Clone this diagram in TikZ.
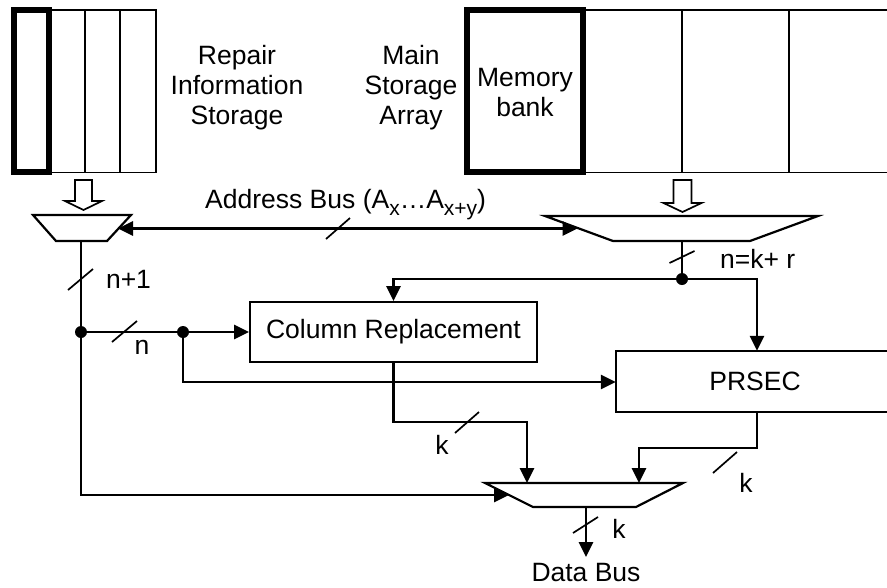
\documentclass[tikz,border=0pt]{standalone}
\usepackage{fontspec}
\setmainfont{Liberation Sans}
\usetikzlibrary{arrows.meta}

\newcommand{\lowsub}[1]{\raisebox{-7pt}{\fontsize{21}{21}\selectfont #1}}

\begin{document}
\begin{tikzpicture}[x=1pt,y=-1pt,
  thinline/.style={line width=1.7pt},
  wire/.style={line width=2.8pt},
  frame/.style={line width=5.5pt},
  tip/.style={-{Triangle[length=15pt,width=14pt]}},
  bothtips/.style={{Triangle[length=15pt,width=14pt]}-{Triangle[length=15pt,width=14pt]}},
  lbl/.style={font=\fontsize{26.5}{30}\selectfont, inner sep=0pt, align=center},
  blk/.style={draw, line width=1.7pt, inner sep=0pt, font=\fontsize{26.5}{30}\selectfont},
  dot/.style={circle, fill, inner sep=0pt, minimum size=12pt},
  slash/.style={line width=1.7pt},
  hollow/.style={draw, line width=1.7pt, fill=white, line join=miter},
  muxshape/.style={draw, line width=2.2pt, fill=white, line join=miter}
]
\useasboundingbox (0,0) rectangle (887,587);

% ---------- repair information storage ----------
\draw[thinline] (49,10) rectangle (156,172.5);
\draw[thinline] (85,10) -- (85,172.5) (120,10) -- (120,172.5);
\node[draw, frame, minimum width=35pt, minimum height=162pt, inner sep=0pt] (ris) at (31.5,91) {};

\node[lbl] (ristext) at (237,88) {Repair\\Information\\Storage};
\node[lbl] (mstext) at (411,88) {Main\\Storage\\Array};

% ---------- main storage array ----------
\draw[thinline] (887,10) -- (583,10) (583,172.5) -- (887,172.5);
\draw[thinline] (682,10) -- (682,172.5) (789,10) -- (789,172.5);
\node[draw, frame, minimum width=116pt, minimum height=162pt, inner sep=0pt] (bank) at (525,91) {};
\node[lbl] (banktext) at (525,93) {Memory\\bank};

% ---------- hollow arrows into the multiplexers ----------
\draw[hollow] (75,180) -- (92,180) -- (92,201) -- (102,201) -- (83.5,210) -- (65,201) -- (75,201) -- cycle;
\draw[hollow] (673.5,180) -- (691.5,180) -- (691.5,203) -- (701.5,203) -- (682.5,212) -- (663.5,203) -- (673.5,203) -- cycle;

% ---------- multiplexers ----------
\draw[muxshape] (33,215) -- (131,215) -- (107,241) -- (56,241) -- cycle;
\coordinate (lmuxout) at (81,241);
\coordinate (lmuxin) at (118,228.5);

\draw[muxshape] (545,216) -- (818,216) -- (750,241) -- (613,241) -- cycle;
\coordinate (rmuxout) at (682,241);
\coordinate (rmuxin) at (577.5,228.5);

\draw[muxshape] (485,483) -- (683,483) -- (636,507) -- (533,507) -- cycle;
\coordinate (dmuxin) at (509,495);
\coordinate (dmuxa) at (527,483);
\coordinate (dmuxb) at (639,483);
\coordinate (dmuxout) at (586,507);

% ---------- processing blocks ----------
\node[blk, minimum width=287pt, minimum height=60pt] (colrep) at (393.5,332) {Column Replacement};
\node[inner sep=0pt, minimum width=271pt, minimum height=61pt] (prsec) at (751.5,381.5) {};
\draw[line width=1.7pt] (prsec.north east) -- (prsec.north west) -- (prsec.south west) -- (prsec.south east);
\node[lbl] (prsectext) at (755,381.5) {PRSEC};

% ---------- address bus ----------
\draw[wire, bothtips] (lmuxin) -- (rmuxin);
\draw[slash] (326,239) -- (350,218);
\node[lbl, anchor=base west] (abus) at (205,208) {Address Bus (A\lowsub{x}\dots A\lowsub{x+y})};

% ---------- right multiplexer output ----------
\coordinate (rj) at (682,279);
\draw[thinline] (rmuxout) -- (rj);
\node[dot] (rjdot) at (rj) {};
\draw[slash] (669.5,263) -- (694.5,251);
\node[lbl, anchor=west] (nkr) at (720,259) {n=k+ r};
\draw[wire, tip] (rj) -| (colrep.north);
\draw[wire, tip] (rj) -| (prsec.north -| 757,0);

% ---------- left multiplexer output ----------
\coordinate (lj) at (81,332);
\coordinate (nj) at (183,332);
\draw[thinline] (lmuxout) -- (lj);
\draw[wire, tip] (lj) -- (81,495) -- (dmuxin);
\node[dot] (ljdot) at (lj) {};
\draw[slash] (68,290) -- (93,269);
\node[lbl] (np1) at (128.5,279) {n+1};

\draw[thinline] (lj) -- (nj);
\node[dot] (njdot) at (nj) {};
\draw[slash] (112,342) -- (137,321);
\node[lbl] (nlbl) at (142,347) {n};
\draw[wire, tip] (nj) -- (colrep.west);
\draw[wire, tip] (nj) |- (prsec.west |- 0,382);

% ---------- block outputs into the data multiplexer ----------
\draw[wire, tip] (colrep.south) |- (527,422) -- (dmuxa);
\draw[slash] (455,433) -- (479,412);
\node[lbl] (k1) at (442,445) {k};

\draw[wire, tip] (757,412) |- (639,448) -- (dmuxb);
\draw[slash] (713,473) -- (737,452);
\node[lbl] (k2) at (746,483) {k};

% ---------- data bus ----------
\draw[wire, tip] (dmuxout) -- (586,557);
\draw[slash] (573,533) -- (598,517);
\node[lbl] (k3) at (619,529) {k};
\node[lbl] (dbus) at (586,573) {Data Bus};
\end{tikzpicture}
\end{document}
